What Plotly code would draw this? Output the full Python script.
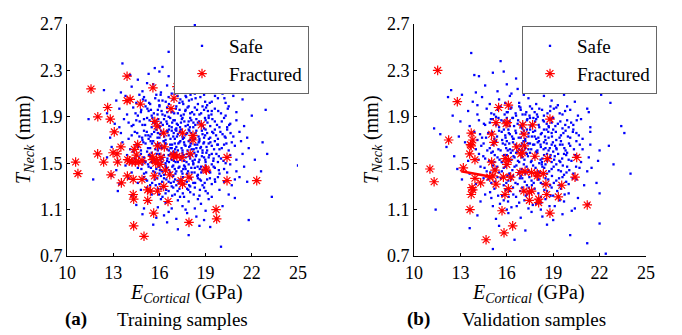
import plotly.graph_objects as go

# ---------------- data ----------------
x_ticks = [10, 13, 16, 19, 22, 25]
y_ticks = [0.7, 1.1, 1.5, 1.9, 2.3, 2.7]
y_ticktext = ["0.7", "1.1", "1.5", "1.9", "2.3", "2.7"]

# Panel (a) training samples - safe (outer cloud)
safe_a = [
    (18.3, 2.69),
    (17.1, 2.41), (16.6, 2.46), (18.9, 2.43), (17.8, 2.48),
    (13.6, 2.36), (16.2, 2.33), (17.4, 2.37), (18.6, 2.31), (19.5, 2.35), (15.7, 2.32),
    (14.6, 2.22), (15.3, 2.27), (16.6, 2.25), (17.3, 2.21), (18.0, 2.28), (18.9, 2.24),
    (19.8, 2.22), (20.6, 2.27), (16.0, 2.29), (14.1, 2.26), (17.7, 2.24), (19.2, 2.29),
    (12.4, 2.13), (14.2, 2.16), (14.9, 2.12), (15.6, 2.18), (16.1, 2.11), (16.5, 2.17),
    (17.0, 2.14), (17.6, 2.19), (18.2, 2.12), (18.7, 2.17), (19.3, 2.13), (19.9, 2.18),
    (20.4, 2.11), (21.1, 2.15), (15.2, 2.19), (16.8, 2.10), (17.9, 2.16), (13.5, 2.11),
    (13.2, 2.04), (13.8, 2.08), (14.5, 2.02), (15.0, 2.07), (15.4, 2.01), (15.8, 2.09),
    (16.2, 2.04), (16.6, 2.07), (17.3, 2.02), (17.7, 2.08), (18.1, 2.05), (18.5, 2.01),
    (18.9, 2.09), (19.4, 2.03), (19.8, 2.06), (20.3, 2.02), (20.8, 2.08), (21.4, 2.05),
    (16.0, 2.00), (17.0, 2.10), (18.3, 2.10), (19.1, 2.00), (15.1, 2.04), (17.5, 2.03),
    (20.1, 2.10), (14.7, 2.09),
    (12.6, 1.93), (13.4, 1.97), (13.9, 1.92), (14.3, 1.98), (14.8, 1.94), (15.1, 1.99),
    (15.5, 1.91), (15.9, 1.96), (16.2, 1.92), (16.5, 1.98), (16.8, 1.94), (17.1, 1.99),
    (17.4, 1.91), (17.7, 1.96), (18.0, 1.93), (18.3, 1.98), (18.6, 1.92), (18.9, 1.96),
    (19.2, 1.91), (19.6, 1.97), (20.0, 1.93), (20.5, 1.99), (21.0, 1.94), (22.0, 1.91),
    (22.9, 1.96), (15.3, 1.95), (16.0, 1.99), (17.2, 1.93), (17.9, 1.99), (18.8, 1.99),
    (19.4, 1.95), (14.6, 1.91), (20.3, 1.91), (16.6, 1.90),
    (11.4, 1.88), (13.1, 1.84), (13.7, 1.88), (14.2, 1.82), (14.5, 1.87), (14.9, 1.83),
    (15.2, 1.89), (15.5, 1.81), (15.8, 1.86), (16.0, 1.82), (16.3, 1.88), (16.5, 1.84),
    (16.8, 1.81), (17.0, 1.87), (17.2, 1.83), (17.5, 1.89), (17.7, 1.82), (17.9, 1.86),
    (18.2, 1.81), (18.4, 1.88), (18.7, 1.84), (19.0, 1.87), (19.3, 1.82), (19.6, 1.86),
    (19.9, 1.81), (20.2, 1.89), (20.6, 1.84), (21.0, 1.87), (21.5, 1.82), (15.0, 1.88),
    (16.1, 1.85), (16.7, 1.89), (17.4, 1.85), (18.0, 1.89), (18.5, 1.85), (19.2, 1.89),
    (20.4, 1.81), (14.0, 1.85), (15.6, 1.85), (17.1, 1.80), (18.9, 1.80), (13.4, 1.81),
    (12.8, 1.72), (13.5, 1.76), (14.0, 1.71), (14.4, 1.77), (14.7, 1.73), (15.0, 1.78),
    (15.3, 1.71), (15.5, 1.75), (15.8, 1.79), (16.0, 1.72), (16.2, 1.76), (16.4, 1.70),
    (16.6, 1.74), (16.8, 1.78), (17.0, 1.71), (17.2, 1.75), (17.4, 1.79), (17.6, 1.72),
    (17.8, 1.76), (18.0, 1.70), (18.2, 1.74), (18.4, 1.78), (18.6, 1.71), (18.8, 1.75),
    (19.0, 1.79), (19.3, 1.72), (19.5, 1.76), (19.8, 1.71), (20.1, 1.75), (20.4, 1.79),
    (20.8, 1.73), (21.2, 1.77), (21.7, 1.72), (22.7, 1.68), (15.1, 1.74), (15.9, 1.76),
    (16.5, 1.78), (17.1, 1.78), (17.5, 1.73), (17.9, 1.79), (18.3, 1.71), (18.9, 1.72),
    (19.6, 1.79), (20.3, 1.72), (14.2, 1.74), (16.9, 1.73), (19.1, 1.76), (14.9, 1.70),
    (12.9, 1.64), (13.6, 1.68), (14.1, 1.62), (14.5, 1.66), (14.8, 1.61), (15.1, 1.67),
    (15.4, 1.63), (15.6, 1.69), (15.9, 1.61), (16.1, 1.65), (16.3, 1.69), (16.5, 1.62),
    (16.7, 1.66), (16.9, 1.60), (17.1, 1.64), (17.3, 1.68), (17.5, 1.61), (17.7, 1.65),
    (17.9, 1.69), (18.1, 1.62), (18.3, 1.66), (18.5, 1.60), (18.7, 1.64), (18.9, 1.68),
    (19.1, 1.61), (19.4, 1.65), (19.6, 1.69), (19.9, 1.62), (20.2, 1.66), (20.5, 1.61),
    (20.9, 1.65), (21.3, 1.69), (21.8, 1.63), (15.2, 1.60), (15.8, 1.66), (16.4, 1.67),
    (16.8, 1.63), (17.2, 1.61), (17.6, 1.68), (18.0, 1.65), (18.4, 1.63), (18.8, 1.61),
    (19.2, 1.67), (19.8, 1.66), (20.7, 1.68), (14.3, 1.60), (17.0, 1.67), (18.6, 1.69),
    (16.0, 1.63), (23.0, 1.58),
    (12.6, 1.55), (13.3, 1.52), (13.9, 1.57), (14.4, 1.54), (14.8, 1.58), (15.1, 1.51),
    (15.4, 1.56), (15.7, 1.52), (16.0, 1.58), (16.2, 1.54), (16.4, 1.50), (16.6, 1.57),
    (16.8, 1.53), (17.0, 1.59), (17.2, 1.51), (17.4, 1.56), (17.6, 1.52), (17.8, 1.58),
    (18.0, 1.54), (18.2, 1.50), (18.4, 1.57), (18.6, 1.53), (18.8, 1.59), (19.0, 1.51),
    (19.2, 1.55), (19.5, 1.52), (19.7, 1.58), (20.0, 1.54), (20.3, 1.50), (20.6, 1.57),
    (21.0, 1.53), (21.4, 1.58), (22.2, 1.53), (25.0, 1.48), (15.0, 1.55), (15.9, 1.51),
    (16.5, 1.52), (17.1, 1.55), (17.7, 1.55), (18.3, 1.53), (18.9, 1.55), (19.4, 1.58),
    (16.9, 1.57), (17.5, 1.59), (18.1, 1.57), (19.8, 1.51), (14.1, 1.50), (15.5, 1.59),
    (13.2, 1.44), (13.8, 1.48), (14.2, 1.42), (14.6, 1.46), (15.0, 1.41), (15.3, 1.47),
    (15.6, 1.43), (15.9, 1.49), (16.1, 1.44), (16.3, 1.40), (16.5, 1.46), (16.7, 1.42),
    (16.9, 1.48), (17.1, 1.43), (17.3, 1.47), (17.5, 1.41), (17.7, 1.45), (17.9, 1.49),
    (18.1, 1.42), (18.3, 1.46), (18.5, 1.40), (18.8, 1.44), (19.0, 1.48), (19.3, 1.42),
    (19.6, 1.46), (19.9, 1.41), (20.2, 1.45), (20.6, 1.49), (21.0, 1.43), (21.5, 1.47),
    (22.6, 1.43), (15.8, 1.45), (16.4, 1.48), (17.0, 1.45), (17.6, 1.48), (18.2, 1.49),
    (18.7, 1.47), (19.4, 1.49), (20.4, 1.42), (16.0, 1.41), (17.8, 1.41), (14.9, 1.49),
    (11.7, 1.36), (13.4, 1.32), (14.0, 1.37), (14.6, 1.33), (15.0, 1.38), (15.4, 1.31),
    (15.7, 1.36), (16.0, 1.32), (16.3, 1.37), (16.6, 1.34), (16.9, 1.39), (17.1, 1.31),
    (17.4, 1.36), (17.6, 1.32), (17.9, 1.38), (18.2, 1.33), (18.5, 1.37), (18.8, 1.31),
    (19.1, 1.36), (19.4, 1.32), (19.8, 1.38), (20.2, 1.34), (20.7, 1.31), (21.2, 1.38),
    (21.7, 1.34), (16.1, 1.39), (17.2, 1.35), (18.0, 1.30), (18.7, 1.35), (19.6, 1.36),
    (15.2, 1.35), (16.8, 1.30), (12.9, 1.39), (20.9, 1.36),
    (13.3, 1.26), (14.2, 1.22), (14.8, 1.27), (15.5, 1.23), (15.9, 1.28), (16.2, 1.21),
    (16.6, 1.26), (17.0, 1.23), (17.3, 1.28), (17.6, 1.21), (18.0, 1.25), (18.3, 1.29),
    (18.6, 1.22), (19.0, 1.26), (19.4, 1.21), (19.9, 1.27), (20.5, 1.23), (23.3, 1.21),
    (16.9, 1.29), (17.8, 1.28), (15.2, 1.29), (16.4, 1.24), (18.9, 1.29), (20.9, 1.20),
    (14.5, 1.14), (15.3, 1.17), (15.9, 1.12), (16.4, 1.16), (16.8, 1.11), (17.2, 1.18),
    (17.5, 1.13), (17.9, 1.17), (18.3, 1.11), (18.7, 1.15), (19.2, 1.19), (20.1, 1.13),
    (16.1, 1.19), (17.7, 1.10), (18.5, 1.19), (15.0, 1.11),
    (14.9, 1.06), (15.8, 1.03), (16.6, 1.08), (17.1, 1.02), (17.8, 1.07), (18.4, 1.04),
    (19.0, 1.09), (21.8, 1.01), (16.3, 1.05), (18.9, 1.01),
    (15.6, 0.97), (17.2, 0.93), (18.6, 0.96), (19.3, 0.95), (16.5, 0.99),
    (20.0, 0.78), (17.9, 0.88),
]

# Panel (a) training samples - safe (dense core)
safe_a_core = [
    (15.73, 2.06), (16.41, 2.03), (17.18, 2.08), (17.92, 2.04), (18.66, 2.07), (19.27, 2.02),
    (16.08, 2.09), (16.87, 2.05), (17.55, 2.01), (18.35, 2.06), (15.33, 2.02), (19.61, 2.08),
    (14.93, 2.05), (16.62, 2.01), (18.02, 2.09), (17.36, 2.05), (18.97, 2.03), (20.22, 2.06),
    (15.96, 2.04), (17.74, 2.07),
    (15.22, 1.97), (15.64, 1.93), (16.14, 1.95), (16.36, 1.91), (16.73, 1.97), (16.96, 1.93),
    (17.31, 1.96), (17.58, 1.92), (17.83, 1.98), (18.12, 1.94), (18.44, 1.96), (18.71, 1.93),
    (19.03, 1.98), (19.38, 1.92), (19.82, 1.95), (14.82, 1.96), (14.45, 1.93), (20.44, 1.97),
    (15.88, 1.92), (17.07, 1.97), (18.26, 1.92), (16.51, 1.94), (19.15, 1.95), (17.68, 1.95),
    (15.45, 1.96),
    (14.72, 1.86), (15.07, 1.83), (15.36, 1.87), (15.71, 1.84), (15.93, 1.88), (16.22, 1.83),
    (16.46, 1.86), (16.64, 1.82), (16.91, 1.87), (17.13, 1.84), (17.34, 1.81), (17.62, 1.86),
    (17.85, 1.83), (18.07, 1.87), (18.33, 1.83), (18.58, 1.86), (18.82, 1.82), (19.12, 1.85),
    (19.44, 1.88), (19.74, 1.83), (20.05, 1.86), (20.53, 1.83), (16.02, 1.81), (16.83, 1.85),
    (17.46, 1.88), (18.21, 1.85), (18.96, 1.89), (15.55, 1.89), (14.31, 1.83), (17.98, 1.81),
    (14.56, 1.76), (14.88, 1.72), (15.18, 1.77), (15.41, 1.73), (15.66, 1.77), (15.88, 1.72),
    (16.11, 1.78), (16.31, 1.73), (16.53, 1.77), (16.72, 1.71), (16.93, 1.76), (17.14, 1.73),
    (17.33, 1.77), (17.52, 1.71), (17.74, 1.75), (17.95, 1.78), (18.14, 1.72), (18.35, 1.76),
    (18.54, 1.73), (18.76, 1.78), (18.97, 1.74), (19.21, 1.71), (19.43, 1.77), (19.68, 1.74),
    (19.96, 1.77), (20.24, 1.73), (20.62, 1.76), (16.04, 1.75), (17.04, 1.79), (18.05, 1.76),
    (15.28, 1.74), (16.62, 1.79),
    (14.62, 1.64), (14.96, 1.68), (15.26, 1.63), (15.52, 1.67), (15.74, 1.62), (15.97, 1.67),
    (16.18, 1.63), (16.38, 1.67), (16.61, 1.61), (16.82, 1.66), (17.02, 1.62), (17.23, 1.67),
    (17.44, 1.63), (17.63, 1.66), (17.83, 1.61), (18.04, 1.67), (18.23, 1.62), (18.46, 1.66),
    (18.66, 1.63), (18.86, 1.67), (19.06, 1.64), (19.31, 1.68), (19.55, 1.62), (19.76, 1.66),
    (20.05, 1.63), (20.35, 1.67), (16.27, 1.69), (17.36, 1.69), (18.55, 1.68), (15.43, 1.69),
    (17.93, 1.64), (16.72, 1.63),
    (14.68, 1.55), (15.03, 1.52), (15.32, 1.57), (15.62, 1.54), (15.83, 1.58), (16.07, 1.53),
    (16.29, 1.57), (16.52, 1.54), (16.73, 1.58), (16.94, 1.52), (17.15, 1.57), (17.37, 1.53),
    (17.55, 1.57), (17.76, 1.51), (17.94, 1.56), (18.16, 1.52), (18.37, 1.56), (18.55, 1.51),
    (18.76, 1.56), (18.98, 1.53), (19.24, 1.57), (19.52, 1.54), (19.86, 1.56), (20.16, 1.52),
    (16.18, 1.51), (17.05, 1.51), (18.27, 1.59), (15.48, 1.51), (19.05, 1.59), (16.62, 1.51),
    (14.83, 1.45), (15.14, 1.42), (15.45, 1.46), (15.72, 1.42), (15.96, 1.47), (16.19, 1.43),
    (16.41, 1.47), (16.63, 1.44), (16.84, 1.47), (17.04, 1.41), (17.24, 1.46), (17.44, 1.43),
    (17.66, 1.47), (17.86, 1.43), (18.07, 1.46), (18.28, 1.42), (18.48, 1.47), (18.72, 1.42),
    (18.96, 1.46), (19.24, 1.43), (19.52, 1.47), (19.86, 1.44), (16.03, 1.44), (17.55, 1.45),
    (18.62, 1.45), (15.26, 1.49),
    (15.12, 1.36), (15.53, 1.33), (15.86, 1.37), (16.18, 1.34), (16.45, 1.36), (16.74, 1.33),
    (17.02, 1.36), (17.27, 1.33), (17.53, 1.38), (17.78, 1.34), (18.04, 1.37), (18.32, 1.33),
    (18.62, 1.36), (18.94, 1.33), (19.28, 1.37), (19.62, 1.34), (16.93, 1.34), (17.93, 1.31),
    (15.76, 1.31), (18.46, 1.39),
    (15.46, 1.26), (15.97, 1.23), (16.44, 1.27), (16.83, 1.22), (17.18, 1.26), (17.52, 1.24),
    (17.88, 1.27), (18.23, 1.23), (18.63, 1.27), (19.14, 1.24), (16.12, 1.28), (17.34, 1.21),
]

# Panel (a) training samples - fractured
frac_a = [
    (13.9, 2.25), (11.56, 2.14), (15.58, 2.15), (17.14, 2.16), (13.9, 2.04), (14.1, 2.05),
    (14.76, 2.01), (16.95, 2.06), (16.75, 1.97), (12.64, 1.98), (12.0, 1.90), (12.81, 1.88),
    (15.7, 1.86), (15.85, 1.82), (18.72, 1.83), (13.07, 1.77), (16.28, 1.76), (17.5, 1.76),
    (18.18, 1.74), (18.18, 1.70), (14.59, 1.66), (13.5, 1.64), (14.37, 1.62), (15.88, 1.65),
    (16.32, 1.64), (11.99, 1.58), (12.99, 1.59), (13.25, 1.58), (18.0, 1.58), (15.54, 1.56),
    (16.93, 1.57), (17.14, 1.56), (17.47, 1.55), (20.39, 1.55), (10.56, 1.51), (12.38, 1.51),
    (13.29, 1.51), (13.94, 1.53), (14.22, 1.51), (14.44, 1.51), (14.66, 1.51), (14.88, 1.52),
    (15.76, 1.50), (16.04, 1.49), (15.8, 1.53), (10.71, 1.41), (12.86, 1.40), (13.92, 1.39),
    (15.67, 1.39), (16.39, 1.44), (16.67, 1.40), (17.92, 1.38), (18.99, 1.45), (19.05, 1.44),
    (14.3, 1.36), (14.87, 1.36), (17.4, 1.35), (17.5, 1.32), (20.39, 1.35), (22.32, 1.35),
    (13.53, 1.33), (15.24, 1.27), (15.41, 1.26), (15.88, 1.26), (16.28, 1.30), (14.3, 1.23),
    (14.33, 1.19), (15.24, 1.18), (16.56, 1.17), (15.63, 1.07), (19.68, 1.10), (19.72, 1.02),
    (17.92, 0.99), (14.33, 0.96), (15.0, 0.87), (14.5, 1.57), (16.1, 1.55), (16.9, 1.56),
    (14.05, 1.52), (15.55, 1.53),
]

# Panel (b) validation samples - safe (outer cloud)
safe_b = [
    (13.7, 2.45),
    (15.6, 2.38), (17.2, 2.34), (18.4, 2.36),
    (13.9, 2.26), (14.2, 2.25), (15.1, 2.28), (15.8, 2.29), (16.6, 2.23), (17.5, 2.27),
    (18.8, 2.21), (20.3, 2.24), (19.5, 2.28),
    (12.4, 2.13), (14.6, 2.17), (15.4, 2.12), (16.0, 2.18), (16.7, 2.14), (17.3, 2.19),
    (17.9, 2.13), (18.5, 2.17), (19.1, 2.11), (19.7, 2.16), (20.7, 2.15), (14.0, 2.11),
    (16.3, 2.10), (18.2, 2.19),
    (12.2, 2.07), (13.1, 2.09), (13.8, 2.03), (14.4, 2.07), (14.9, 2.01), (15.5, 2.05),
    (16.2, 2.08), (16.8, 2.02), (17.4, 2.06), (17.9, 2.01), (18.4, 2.08), (18.9, 2.04),
    (19.7, 2.09), (20.4, 2.03), (21.2, 1.97), (22.1, 2.09), (22.7, 2.02), (15.9, 2.02),
    (17.1, 2.09), (19.3, 2.00), (14.1, 2.00),
    (12.5, 1.91), (13.5, 1.95), (14.1, 1.92), (14.7, 1.97), (15.0, 1.93), (15.6, 1.99),
    (16.0, 1.94), (16.3, 1.98), (16.6, 1.91), (16.9, 1.96), (17.2, 1.92), (17.5, 1.99),
    (17.8, 1.94), (18.1, 1.97), (18.4, 1.91), (18.8, 1.95), (19.2, 1.98), (19.6, 1.92),
    (20.1, 1.96), (20.6, 1.91), (21.3, 1.94), (15.3, 1.90), (16.8, 1.99), (18.0, 1.90),
    (19.9, 1.99),
    (11.3, 1.80), (13.0, 1.86), (13.6, 1.82), (14.2, 1.87), (14.6, 1.83), (15.1, 1.88),
    (15.5, 1.81), (15.8, 1.86), (16.2, 1.82), (16.4, 1.89), (16.7, 1.84), (17.0, 1.80),
    (17.3, 1.87), (17.6, 1.83), (17.9, 1.88), (18.1, 1.81), (18.4, 1.86), (18.7, 1.82),
    (19.0, 1.89), (19.3, 1.84), (19.6, 1.80), (19.9, 1.87), (20.3, 1.83), (20.8, 1.88),
    (21.4, 1.81), (23.4, 1.82), (16.0, 1.89), (17.5, 1.89), (18.9, 1.85), (16.9, 1.82),
    (14.9, 1.85), (20.0, 1.81),
    (11.7, 1.75), (12.9, 1.73), (13.9, 1.77), (14.4, 1.72), (14.8, 1.76), (15.2, 1.71),
    (15.5, 1.78), (15.9, 1.74), (16.1, 1.79), (16.4, 1.71), (16.6, 1.76), (16.9, 1.72),
    (17.1, 1.78), (17.4, 1.73), (17.7, 1.77), (17.9, 1.71), (18.2, 1.75), (18.4, 1.79),
    (18.7, 1.72), (18.9, 1.76), (19.2, 1.70), (19.5, 1.74), (19.8, 1.78), (20.1, 1.72),
    (20.5, 1.76), (20.9, 1.71), (21.4, 1.77), (23.6, 1.76), (16.2, 1.75), (17.3, 1.79),
    (18.5, 1.70), (19.0, 1.79), (15.7, 1.70), (17.8, 1.73), (20.3, 1.79), (14.1, 1.70),
    (12.1, 1.64), (13.3, 1.68), (14.0, 1.62), (14.5, 1.67), (14.9, 1.63), (15.3, 1.69),
    (15.6, 1.61), (15.9, 1.66), (16.2, 1.62), (16.4, 1.68), (16.7, 1.60), (16.9, 1.65),
    (17.2, 1.69), (17.4, 1.62), (17.7, 1.66), (17.9, 1.60), (18.2, 1.64), (18.4, 1.68),
    (18.7, 1.61), (18.9, 1.66), (19.2, 1.63), (19.5, 1.69), (19.8, 1.61), (20.1, 1.65),
    (20.5, 1.69), (20.9, 1.62), (21.4, 1.66), (22.0, 1.61), (22.6, 1.65), (15.1, 1.60),
    (16.0, 1.69), (17.0, 1.61), (18.0, 1.68), (19.0, 1.60), (19.6, 1.66), (16.6, 1.64),
    (17.5, 1.67), (18.5, 1.63),
    (12.6, 1.56), (13.5, 1.52), (14.2, 1.58), (14.6, 1.54), (15.0, 1.59), (15.4, 1.55),
    (15.7, 1.51), (16.0, 1.57), (16.3, 1.53), (16.6, 1.59), (16.8, 1.51), (17.0, 1.55),
    (17.3, 1.58), (17.6, 1.52), (17.8, 1.56), (18.1, 1.50), (18.3, 1.54), (18.6, 1.58),
    (18.9, 1.51), (19.1, 1.56), (19.4, 1.52), (19.7, 1.58), (20.0, 1.53), (20.4, 1.57),
    (20.8, 1.51), (21.3, 1.55), (21.9, 1.52), (17.5, 1.59), (18.8, 1.55), (16.5, 1.55),
    (19.9, 1.59), (15.2, 1.51),
    (12.8, 1.45), (13.6, 1.41), (14.3, 1.47), (14.7, 1.43), (15.1, 1.48), (15.5, 1.42),
    (15.8, 1.46), (16.2, 1.41), (16.5, 1.47), (16.8, 1.43), (17.1, 1.49), (17.4, 1.44),
    (17.7, 1.48), (18.0, 1.43), (18.3, 1.47), (18.6, 1.41), (18.9, 1.45), (19.2, 1.49),
    (19.5, 1.43), (19.9, 1.47), (20.3, 1.41), (20.7, 1.46), (21.2, 1.43), (22.9, 1.49),
    (24.0, 1.41), (16.0, 1.49), (17.2, 1.41), (18.5, 1.49), (19.7, 1.40), (15.3, 1.45),
    (13.1, 1.36), (14.0, 1.32), (14.5, 1.37), (15.0, 1.33), (15.4, 1.38), (15.8, 1.31),
    (16.1, 1.35), (16.4, 1.39), (16.7, 1.32), (17.0, 1.37), (17.3, 1.31), (17.6, 1.35),
    (17.9, 1.39), (18.2, 1.33), (18.5, 1.37), (18.8, 1.31), (19.2, 1.35), (19.6, 1.38),
    (20.0, 1.32), (20.5, 1.36), (21.0, 1.31), (21.8, 1.33), (16.9, 1.39), (18.0, 1.36),
    (19.4, 1.31),
    (13.9, 1.27), (14.6, 1.23), (15.2, 1.28), (15.7, 1.22), (16.2, 1.26), (16.6, 1.21),
    (17.0, 1.29), (17.3, 1.23), (17.8, 1.28), (18.2, 1.21), (18.6, 1.26), (19.0, 1.22),
    (19.5, 1.28), (20.0, 1.24), (20.6, 1.20), (22.0, 1.24), (16.4, 1.29), (18.9, 1.29),
    (15.0, 1.20),
    (11.4, 1.10), (14.3, 1.17), (15.1, 1.13), (15.8, 1.18), (16.3, 1.12), (16.8, 1.16),
    (17.4, 1.11), (17.9, 1.15), (18.5, 1.19), (19.1, 1.13), (19.7, 1.17), (20.4, 1.11),
    (21.3, 1.15), (16.0, 1.10), (18.2, 1.10),
    (14.1, 1.05), (15.3, 1.02), (16.1, 1.07), (16.9, 1.03), (17.6, 1.08), (18.3, 1.04),
    (19.0, 1.01), (19.6, 1.06), (20.2, 1.09),
    (13.6, 0.94), (15.5, 0.96), (17.2, 0.92), (18.6, 0.97), (22.0, 0.98),
    (15.1, 0.76), (16.5, 0.84), (20.1, 0.88), (21.2, 0.81), (22.4, 0.72),
]

# Panel (b) validation samples - safe (dense core)
safe_b_core = [
    (15.42, 1.96), (15.86, 1.92), (16.24, 1.97), (16.57, 1.93), (16.88, 1.98), (17.26, 1.94),
    (17.63, 1.97), (17.95, 1.92), (18.28, 1.96), (18.63, 1.93), (19.04, 1.97), (19.42, 1.93),
    (16.06, 1.94), (17.47, 1.91), (18.82, 1.99), (15.18, 1.92), (17.02, 1.92), (19.77, 1.95),
    (14.52, 1.84), (14.97, 1.88), (15.32, 1.83), (15.65, 1.87), (15.94, 1.83), (16.18, 1.86),
    (16.47, 1.82), (16.73, 1.87), (17.04, 1.84), (17.33, 1.88), (17.54, 1.82), (17.83, 1.86),
    (18.06, 1.83), (18.34, 1.87), (18.58, 1.84), (18.86, 1.88), (19.14, 1.82), (19.46, 1.86),
    (19.78, 1.83), (20.16, 1.85), (16.36, 1.89), (17.72, 1.89), (18.72, 1.81), (15.46, 1.89),
    (16.92, 1.81), (20.52, 1.87),
    (14.27, 1.75), (14.66, 1.72), (15.04, 1.77), (15.37, 1.73), (15.67, 1.77), (15.92, 1.72),
    (16.13, 1.76), (16.34, 1.73), (16.56, 1.78), (16.77, 1.72), (16.98, 1.76), (17.19, 1.71),
    (17.41, 1.76), (17.62, 1.73), (17.83, 1.78), (18.04, 1.72), (18.26, 1.76), (18.47, 1.73),
    (18.68, 1.77), (18.92, 1.73), (19.17, 1.77), (19.41, 1.72), (19.66, 1.76), (19.95, 1.73),
    (20.27, 1.77), (20.66, 1.74), (16.44, 1.71), (17.51, 1.79), (18.57, 1.79), (15.81, 1.79),
    (14.35, 1.65), (14.74, 1.61), (15.12, 1.66), (15.46, 1.62), (15.74, 1.67), (15.96, 1.63),
    (16.16, 1.67), (16.37, 1.61), (16.58, 1.66), (16.78, 1.62), (16.99, 1.67), (17.18, 1.63),
    (17.38, 1.67), (17.58, 1.62), (17.78, 1.66), (17.98, 1.61), (18.18, 1.66), (18.38, 1.62),
    (18.58, 1.67), (18.78, 1.63), (18.98, 1.68), (19.22, 1.62), (19.44, 1.66), (19.72, 1.63),
    (20.02, 1.67), (20.34, 1.62), (20.72, 1.66), (16.06, 1.61), (17.08, 1.69), (18.08, 1.69),
    (19.12, 1.65), (15.28, 1.69),
    (14.48, 1.56), (14.86, 1.52), (15.22, 1.57), (15.53, 1.53), (15.83, 1.57), (16.14, 1.52),
    (16.43, 1.56), (16.72, 1.52), (16.93, 1.57), (17.14, 1.53), (17.37, 1.56), (17.56, 1.51),
    (17.77, 1.55), (17.97, 1.59), (18.18, 1.53), (18.41, 1.57), (18.62, 1.52), (18.83, 1.57),
    (19.06, 1.53), (19.32, 1.58), (19.58, 1.54), (19.84, 1.57), (20.18, 1.52), (20.56, 1.56),
    (16.26, 1.59), (17.24, 1.59), (18.27, 1.51), (15.67, 1.51), (19.46, 1.51), (14.17, 1.53),
    (14.56, 1.46), (14.93, 1.42), (15.38, 1.47), (15.68, 1.43), (15.93, 1.47), (16.36, 1.44),
    (16.62, 1.48), (16.96, 1.45), (17.28, 1.47), (17.53, 1.42), (17.86, 1.46), (18.13, 1.42),
    (18.42, 1.46), (18.74, 1.43), (19.03, 1.47), (19.34, 1.44), (19.62, 1.48), (20.04, 1.44),
    (20.48, 1.47), (16.16, 1.41), (17.12, 1.43), (18.26, 1.49), (15.16, 1.45), (19.86, 1.42),
    (16.76, 1.41), (21.48, 1.46),
    (14.78, 1.36), (15.24, 1.34), (15.62, 1.37), (15.97, 1.33), (16.28, 1.36), (16.56, 1.33),
    (16.84, 1.37), (17.16, 1.34), (17.46, 1.38), (17.74, 1.33), (18.06, 1.36), (18.34, 1.32),
    (18.68, 1.36), (19.04, 1.33), (19.38, 1.37), (19.84, 1.34), (20.26, 1.37), (16.04, 1.39),
    (17.62, 1.31), (18.92, 1.39),
    (14.92, 1.25), (15.44, 1.22), (15.93, 1.27), (16.42, 1.23), (16.86, 1.26), (17.23, 1.22),
    (17.62, 1.27), (18.04, 1.24), (18.43, 1.27), (18.83, 1.22), (19.26, 1.26), (19.74, 1.23),
    (16.12, 1.21), (17.42, 1.29),
    (15.56, 1.15), (16.08, 1.17), (16.64, 1.13), (17.14, 1.18), (17.68, 1.14), (18.22, 1.16),
    (18.76, 1.13), (19.42, 1.18),
]

# Panel (b) validation samples - fractured
frac_b = [
    (11.53, 2.30), (12.8, 2.03), (15.47, 1.98), (16.1, 2.00), (18.79, 1.88), (15.3, 1.85),
    (15.95, 1.84), (16.03, 1.85), (17.03, 1.83), (17.67, 1.83), (13.7, 1.76), (15.02, 1.75),
    (17.11, 1.75), (12.24, 1.70), (13.8, 1.70), (13.65, 1.66), (13.7, 1.65), (15.17, 1.68),
    (16.64, 1.64), (17.13, 1.65), (13.6, 1.58), (16.9, 1.58), (17.0, 1.59), (15.9, 1.54),
    (16.1, 1.53), (16.0, 1.49), (17.82, 1.56), (18.62, 1.54), (20.52, 1.55), (13.94, 1.53),
    (11.03, 1.45), (13.19, 1.46), (15.02, 1.51), (15.24, 1.44), (16.85, 1.42), (17.18, 1.43),
    (17.6, 1.42), (17.97, 1.41), (18.36, 1.41), (15.1, 1.39), (14.9, 1.38), (15.78, 1.38),
    (16.25, 1.38), (13.94, 1.37), (17.97, 1.39), (20.41, 1.38), (11.3, 1.34), (14.31, 1.33),
    (15.3, 1.32), (18.53, 1.32), (19.55, 1.31), (13.8, 1.27), (13.7, 1.23), (16.1, 1.28),
    (17.1, 1.26), (17.46, 1.25), (17.6, 1.26), (15.88, 1.23), (18.58, 1.23), (17.46, 1.18),
    (18.06, 1.19), (18.06, 1.16), (19.33, 1.21), (21.2, 1.14), (13.62, 1.10), (15.69, 1.09),
    (18.79, 1.07), (16.38, 0.96), (15.82, 0.90), (14.66, 0.84), (13.75, 1.29),
]

# short red stroke drawn in panel (b)
stroke_b_x = [13.05, 14.9]
stroke_b_y = [1.43, 1.385]

panel_titles = ["(a)", "(b)"]
panel_captions = ["Training samples", "Validation samples"]
series_names = ["Safe", "Fractured"]

# ---------------- figure ----------------
FONT = "Liberation Serif, Times New Roman, serif"
W, H = 682, 335

fig = go.Figure()

def add_panel(safe, frac, xa, ya, legend_id):
    fig.add_trace(go.Scatter(
        x=[p[0] for p in safe], y=[p[1] for p in safe],
        mode="markers", name=series_names[0],
        marker=dict(symbol="square", size=2.3, color="#0000ff", line=dict(width=0)),
        xaxis=xa, yaxis=ya, legend=legend_id,
    ))
    fig.add_trace(go.Scatter(
        x=[p[0] for p in frac], y=[p[1] for p in frac],
        mode="markers", name=series_names[1],
        marker=dict(symbol="asterisk-open", size=8, color="#ff0000",
                    line=dict(color="#ff0000", width=1.2)),
        xaxis=xa, yaxis=ya, legend=legend_id,
    ))

add_panel(safe_a + safe_a_core, frac_a, "x", "y", "legend")
add_panel(safe_b + safe_b_core, frac_b, "x2", "y2", "legend2")

fig.add_trace(go.Scatter(
    x=stroke_b_x, y=stroke_b_y, mode="lines",
    line=dict(color="#ff0000", width=2.5), showlegend=False,
    xaxis="x2", yaxis="y2",
))

def px_x(p):
    return p / W

def px_y(p):
    return 1 - p / H

axis_common = dict(
    showgrid=False, zeroline=False, showline=True, linecolor="black", linewidth=1,
    ticks="inside", ticklen=3, tickcolor="black", mirror=False, automargin=False,
    tickfont=dict(family=FONT, size=18, color="black"),
)

dom_a = [px_x(67), px_x(298)]
dom_b = [px_x(414), px_x(646)]
dom_y = [px_y(256), px_y(24)]

legend_common = dict(
    xanchor="left", yanchor="top", bgcolor="white", bordercolor="#666666",
    borderwidth=1, font=dict(family=FONT, size=19, color="black"),
    itemwidth=44, tracegroupgap=0,
)

fig.update_layout(
    template="none",
    width=W, height=H,
    margin=dict(l=0, r=0, t=0, b=0, autoexpand=False),
    paper_bgcolor="white", plot_bgcolor="white",
    font=dict(family=FONT, color="black"),
    xaxis=dict(domain=dom_a, range=[10, 25], tickvals=x_ticks, anchor="y", **axis_common),
    yaxis=dict(domain=dom_y, range=[0.7, 2.7], tickvals=y_ticks, ticktext=y_ticktext,
               anchor="x", **axis_common),
    xaxis2=dict(domain=dom_b, range=[10, 25], tickvals=x_ticks, anchor="y2", **axis_common),
    yaxis2=dict(domain=dom_y, range=[0.7, 2.7], tickvals=y_ticks, ticktext=y_ticktext,
                anchor="x2", **axis_common),
    legend=dict(x=px_x(174), y=px_y(26), **legend_common),
    legend2=dict(x=px_x(522), y=px_y(26), **legend_common),
    showlegend=True,
)

ann = []
ytitle = "<i>T</i><sub><i>Neck</i></sub> (mm)"
xtitle = "<i>E</i><sub><i>Cortical</i></sub> (GPa)"
for cx, cy in [(24, 140), (372, 140)]:
    ann.append(dict(text=ytitle, x=px_x(cx), y=px_y(cy), xref="paper", yref="paper",
                    showarrow=False, textangle=-90, xanchor="center", yanchor="middle",
                    font=dict(family=FONT, size=20, color="black")))
for cx in [186, 528]:
    ann.append(dict(text=xtitle, x=px_x(cx), y=px_y(293), xref="paper", yref="paper",
                    showarrow=False, xanchor="center", yanchor="middle",
                    font=dict(family=FONT, size=20, color="black")))
for tag, cap, tx, cx in zip(panel_titles, panel_captions, [76, 418], [182, 534]):
    ann.append(dict(text="<b>" + tag + "</b>", x=px_x(tx), y=px_y(319), xref="paper",
                    yref="paper", showarrow=False, xanchor="center", yanchor="middle",
                    font=dict(family=FONT, size=19, color="black")))
    ann.append(dict(text=cap, x=px_x(cx), y=px_y(319), xref="paper", yref="paper",
                    showarrow=False, xanchor="center", yanchor="middle",
                    font=dict(family=FONT, size=19, color="black")))
fig.update_layout(annotations=ann)

fig.write_html(
    "out.html",
    config={"displayModeBar": False},
    post_script="document.body.style.margin='0px';document.body.style.overflow='hidden';",
)
